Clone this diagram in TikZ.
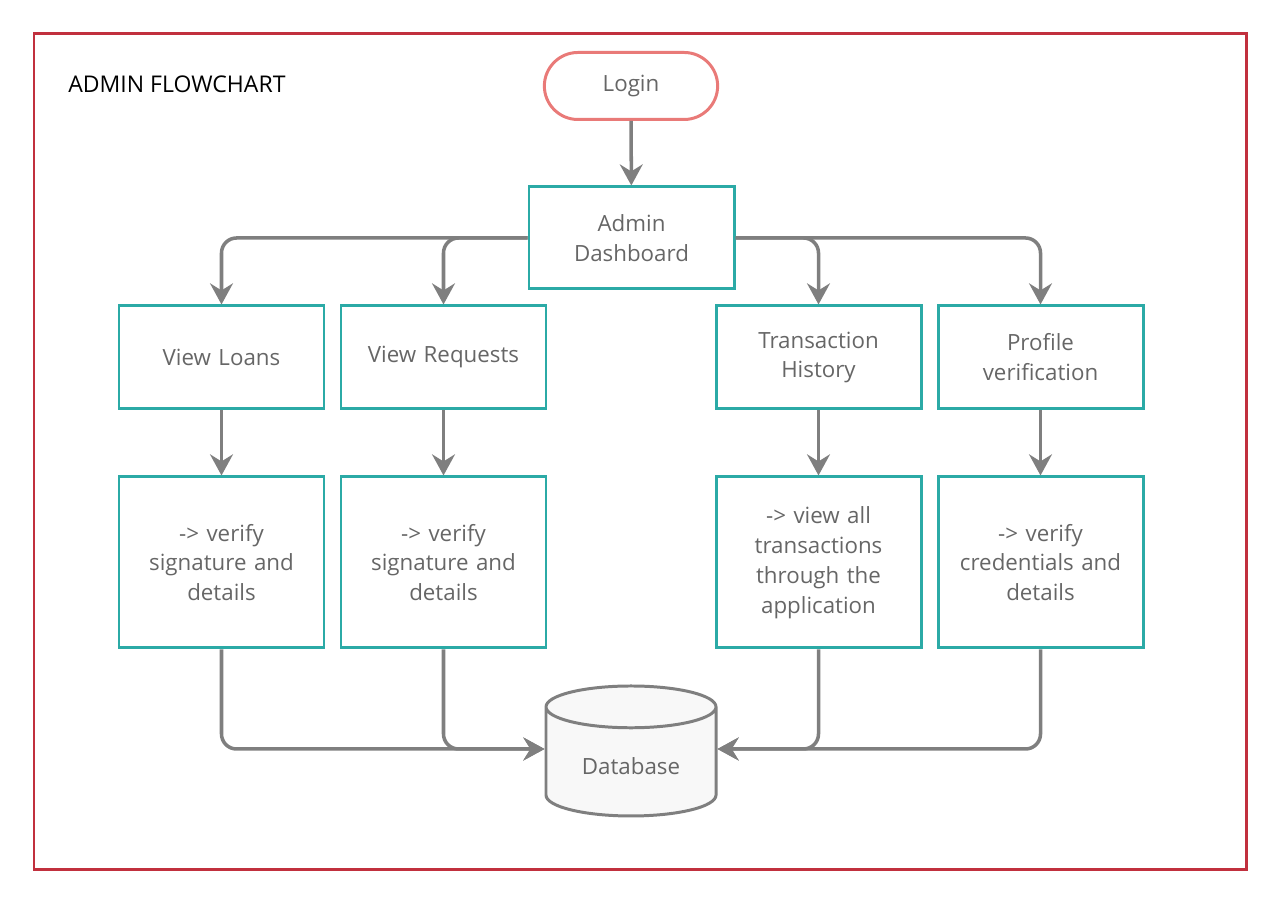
\documentclass[tikz,border=0pt]{standalone}
\usepackage{fontspec}
\setmainfont{Open Sans}
\usetikzlibrary{arrows.meta,shapes.misc,shapes.geometric}

\definecolor{boxteal}{HTML}{2BAAA6}
\definecolor{framered}{HTML}{C1303E}
\definecolor{loginred}{HTML}{E97A78}
\definecolor{linegray}{HTML}{7F7F7F}
\definecolor{textgray}{HTML}{666666}
\definecolor{dbfill}{HTML}{F8F8F8}

\tikzset{
  box/.style={draw=boxteal, line width=1.7pt, minimum width=4.1cm, inner sep=2pt,
    text width=3.8cm, align=center, text=textgray, font=\fontsize{12.7}{17}\selectfont},
  startstop/.style={draw=loginred, line width=1.7pt, rounded rectangle, minimum width=3.7cm,
    minimum height=1.34cm, text=textgray, font=\fontsize{12.7}{17}\selectfont},
  dbnode/.style={draw=linegray, fill=dbfill, line width=1.7pt, cylinder, shape border rotate=90,
    aspect=0.38, minimum width=3.4cm, minimum height=2.6cm, text=textgray,
    font=\fontsize{12.7}{17}\selectfont},
  arrowline/.style={draw=linegray, line width=2pt, rounded corners=0.3cm,
    -{Stealth[length=12pt, width=13pt, inset=4pt]}}
}

\begin{document}
\begin{tikzpicture}
  \useasboundingbox (0,0) rectangle (25.6,18.08);
  \draw[framered, line width=1.7pt] (0.68,0.68) rectangle (24.92,17.40);
  \node[anchor=west, inner sep=0pt, font=\fontsize{13.1}{17}\selectfont] (title) at (1.36,16.40) {ADMIN FLOWCHART};

  % top
  \node[startstop] (login) at (12.62,16.36) {\strut Login};
  \node[box, minimum height=2.04cm] (dash) at (12.63,13.32) {Admin\\Dashboard};

  % first row
  \node[box, minimum height=2.06cm] (loans) at (4.43,10.93) {View Loans};
  \node[box, minimum height=2.06cm] (req) at (8.87,10.93) {View Requests};
  \node[box, minimum height=2.06cm] (trans) at (16.37,10.93) {Transaction\\History};
  \node[box, minimum height=2.06cm] (prof) at (20.81,10.93) {Profile\\verification};

  % second row
  \node[box, minimum height=3.42cm] (loansv) at (4.43,6.83) {-> verify\\signature and\\details};
  \node[box, minimum height=3.42cm] (reqv) at (8.87,6.83) {-> verify\\signature and\\details};
  \node[box, minimum height=3.42cm] (transv) at (16.37,6.83) {-> view all\\transactions\\through the\\application};
  \node[box, minimum height=3.42cm] (profv) at (20.81,6.83) {-> verify\\credentials and\\details};

  \node[dbnode] (db) at (12.62,2.76) {Database};

  \draw[arrowline] (login) -- (dash);
  \draw[arrowline] (dash.west) -| (loans.north);
  \draw[arrowline] (dash.west) -| (req.north);
  \draw[arrowline] (dash.east) -| (trans.north);
  \draw[arrowline] (dash.east) -| (prof.north);

  \draw[arrowline] (loans) -- (loansv);
  \draw[arrowline] (req) -- (reqv);
  \draw[arrowline] (trans) -- (transv);
  \draw[arrowline] (prof) -- (profv);

  \draw[arrowline] (loansv.south) |- ([yshift=0.34cm]db.west);
  \draw[arrowline] (reqv.south) |- ([yshift=0.34cm]db.west);
  \draw[arrowline] (transv.south) |- ([yshift=0.34cm]db.east);
  \draw[arrowline] (profv.south) |- ([yshift=0.34cm]db.east);
\end{tikzpicture}
\end{document}
